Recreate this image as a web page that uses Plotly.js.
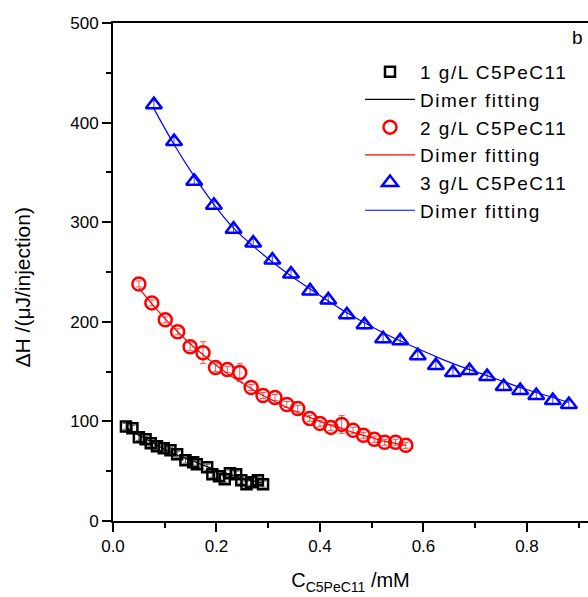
<!DOCTYPE html>
<html>
<head>
<meta charset="utf-8">
<script src="https://cdn.plot.ly/plotly-3.0.1.min.js"></script>
<style>
html,body{margin:0;padding:0;background:#fff;}
#chart{width:588px;height:597px;}
.legendtext{letter-spacing:1.5px;}
</style>
</head>
<body>
<div id="chart"></div>
<script>
// ---- data ----
const x1 = [0.025,0.0375,0.050,0.063,0.073,0.085,0.098,0.111,0.124,0.140,0.155,0.162,0.182,0.192,0.205,0.216,0.226,0.238,0.248,0.258,0.267,0.280,0.290];
const y1 = [95,93,84,82,78,75,73,71,67,61,59,57,54,47,45,42,48,47,41,37,39,41,37];
const e1 = [3,3,3,3,3,3,3,3,3,3,3,3,3,3,3,3,3,3,3,3,3,3,3];

const x2 = [0.050,0.075,0.101,0.125,0.149,0.174,0.198,0.221,0.245,0.267,0.290,0.313,0.336,0.357,0.380,0.400,0.421,0.442,0.464,0.484,0.505,0.525,0.546,0.566];
const y2 = [238,219,202,190,175,169,154,152,149,134,126,124,117,113,103,98,94,97,91,86,82,79,79,76];
const e2 = [3,3,3,3,4,11,4,3,9,3,3,3,3,3,3,3,3,9,3,3,3,3,3,3];

const x3 = [0.079,0.118,0.157,0.195,0.233,0.271,0.308,0.344,0.381,0.416,0.452,0.486,0.522,0.555,0.589,0.624,0.657,0.689,0.723,0.755,0.787,0.818,0.850,0.881];
const y3 = [418,381,341,317,293,279,262,248,231,222,207,197,183,181,166,156,149,151,145,135,131,126,121,117];
const e3 = [4,4,4,4,4,4,4,4,4,4,4,4,4,4,4,4,4,4,4,4,4,4,4,4];

const fx1 = [0.025,0.050,0.075,0.100,0.125,0.150,0.175,0.200,0.225,0.250,0.290];
const fy1 = [94,86,79,72,66,61,56,51,47,43,38];
const fx2 = [0.050,0.075,0.101,0.125,0.149,0.174,0.198,0.221,0.245,0.267,0.290,0.313,0.336,0.357,0.380,0.400,0.421,0.442,0.464,0.484,0.505,0.525,0.546,0.566];
const fy2 = [234,218,203,190,178,167,157,148,140,133,126,120,114,109,104,100,96,93,89,86,83,80,78,76];
const fx3 = [0.079,0.118,0.157,0.195,0.233,0.271,0.308,0.344,0.381,0.416,0.452,0.486,0.522,0.555,0.589,0.624,0.657,0.689,0.723,0.755,0.787,0.818,0.850,0.881];
const fy3 = [414,378,346,318,294,276,260,246,233,221,209,199,189,181,173,165,158,152,146,140,134,129,124,119];

const names = ['1 g/L C5PeC11','2 g/L C5PeC11','3 g/L C5PeC11'];
const fitName = 'Dimer fitting';
const xTitle = 'C<sub>C5PeC11</sub> /mM';
const yTitle = '\u0394H /(\u03BCJ/injection)';
const panelLabel = 'b';

// ---- traces ----
const colors = ['#000000','#ff0000','#0000ff'];
const errColors = ['#555555','#ff5050','#4040ff'];
const symbols = ['square-open','circle-open','triangle-up-open'];
const sizes = [10,13,14];
const X = [x1,x2,x3], Y = [y1,y2,y3], E = [e1,e2,e3];
const FX = [fx1,fx2,fx3], FY = [fy1,fy2,fy3];
const traces = [];
for (let i = 0; i < 3; i++) {
  traces.push({
    x: X[i], y: Y[i], name: names[i], type: 'scatter', mode: 'markers',
    marker: {symbol: symbols[i], size: sizes[i], color: colors[i], line: {width: 2.5, color: colors[i]}},
    error_y: {type: 'data', array: E[i], visible: true, color: errColors[i], thickness: 1, width: 3}
  });
  traces.push({
    x: FX[i], y: FY[i], name: fitName, type: 'scatter', mode: 'lines',
    line: {color: colors[i], width: 1.2, shape: 'spline'}
  });
}

const font = 'Liberation Sans, Arial, sans-serif';
const layout = {
  width: 588, height: 597,
  margin: {l: 113, r: 0, t: 23, b: 76},
  paper_bgcolor: '#fff', plot_bgcolor: '#fff',
  font: {family: font, color: '#000', size: 17},
  showlegend: true,
  legend: {
    x: 0.52, xanchor: 'left', y: 0.94, yanchor: 'top',
    font: {family: font, size: 19, color: '#000'},
    bgcolor: 'rgba(0,0,0,0)', itemwidth: 50, tracegroupgap: 0
  },
  xaxis: {
    range: [0, 0.918], dtick: 0.2, tick0: 0, tickformat: '.1f',
    showgrid: false, zeroline: false,
    showline: true, linecolor: '#000', linewidth: 2, mirror: true,
    ticks: 'outside', ticklen: 9, tickwidth: 2, tickcolor: '#000',
    minor: {dtick: 0.1, ticks: 'outside', ticklen: 5, tickwidth: 2, tickcolor: '#000', showgrid: false},
    tickfont: {size: 17},
    title: {text: xTitle, font: {size: 20}, standoff: 18}
  },
  yaxis: {
    range: [0, 500], dtick: 100, tick0: 0,
    showgrid: false, zeroline: false,
    showline: true, linecolor: '#000', linewidth: 2, mirror: false,
    ticks: 'outside', ticklen: 9, tickwidth: 2, tickcolor: '#000',
    minor: {dtick: 50, ticks: 'outside', ticklen: 5, tickwidth: 2, tickcolor: '#000', showgrid: false},
    tickfont: {size: 17}
  },
  annotations: [{
    text: panelLabel, xref: 'paper', yref: 'paper', x: 0.977, y: 0.971,
    showarrow: false, font: {size: 19, family: font}, xanchor: 'center', yanchor: 'middle'
  }, {
    text: yTitle, xref: 'paper', yref: 'paper', x: -0.1916, y: 0.469,
    textangle: -90, showarrow: false, font: {size: 21, family: font},
    xanchor: 'center', yanchor: 'middle'
  }]
};

Plotly.newPlot('chart', traces, layout, {displayModeBar: false, staticPlot: true});
</script>
</body>
</html>
